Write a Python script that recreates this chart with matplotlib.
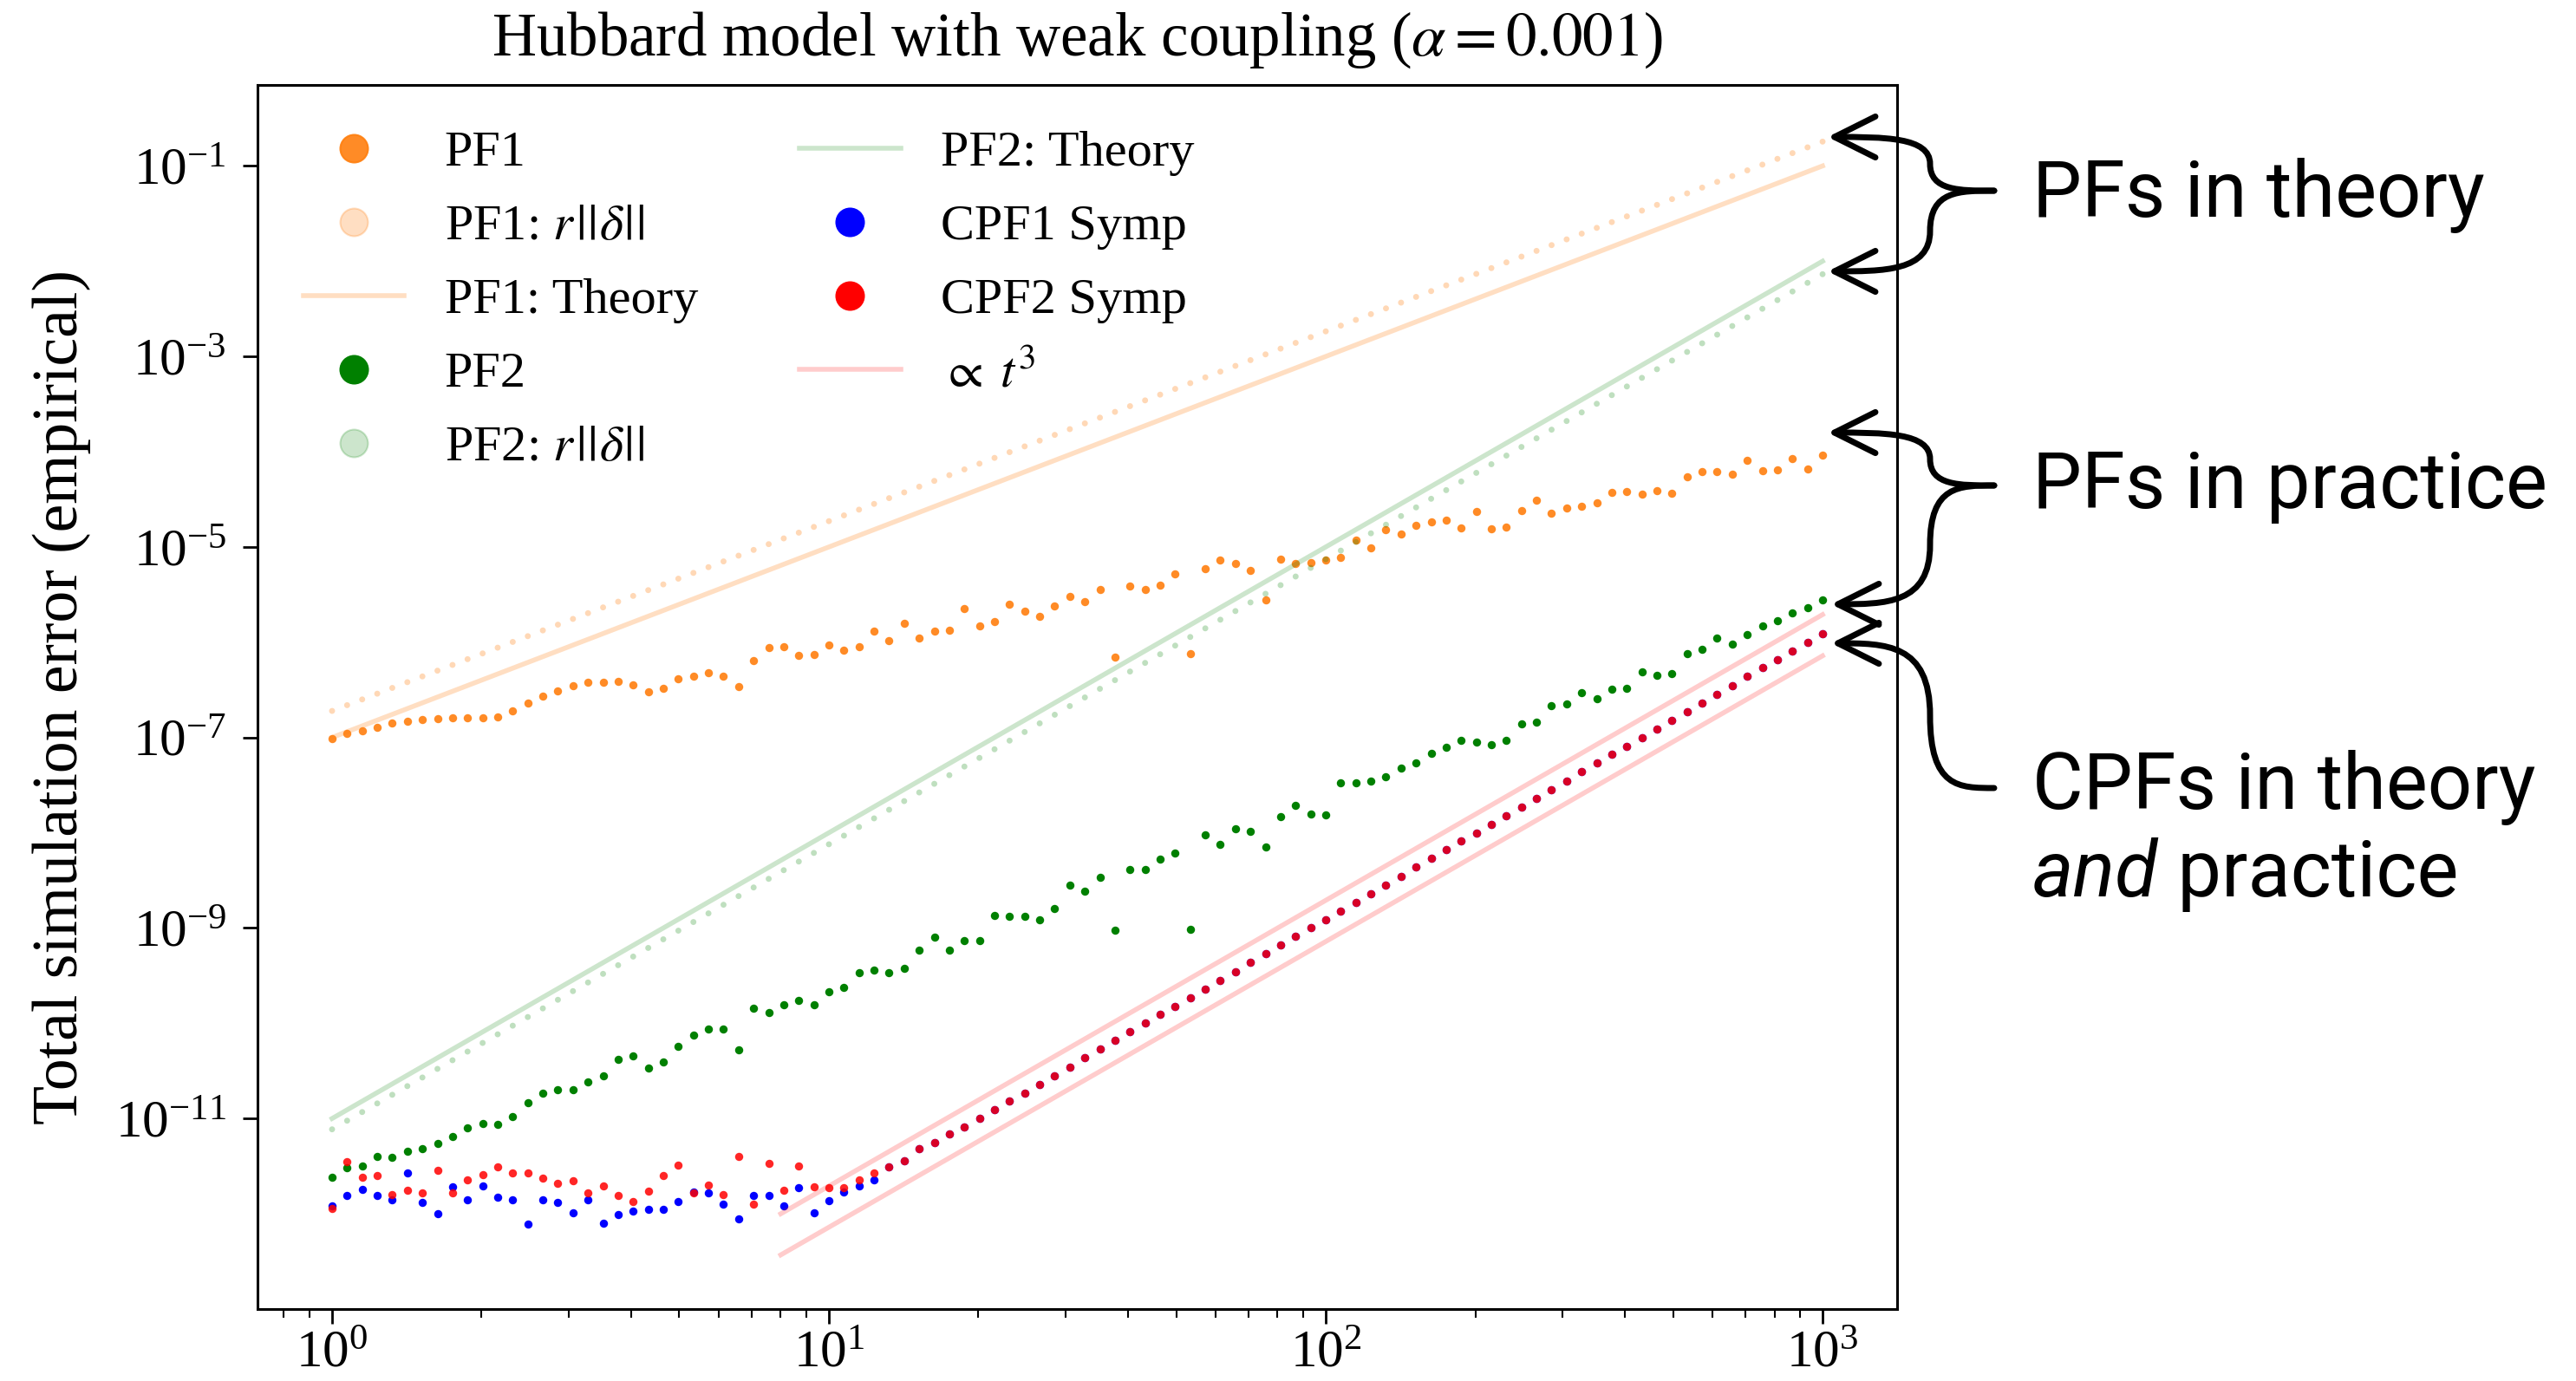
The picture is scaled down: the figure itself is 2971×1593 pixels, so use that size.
import numpy as np
import matplotlib.pyplot as plt
from matplotlib.lines import Line2D
from matplotlib.patches import FancyArrowPatch, ArrowStyle
from matplotlib.path import Path
from matplotlib.ticker import NullLocator

plt.rcParams['font.family'] = ['Liberation Serif', 'DejaVu Serif']
plt.rcParams['mathtext.fontset'] = 'stix'

# =============================================================================
# Data
# =============================================================================

# simulation time: 100 log-spaced samples between t = 1 and t = 1000
t = np.logspace(0, 3, 100)

# log10 of the empirical error
pf1_log = [
    -7.01, -6.96, -6.93, -6.89, -6.85, -6.83, -6.81, -6.80, -6.79, -6.79,
    -6.79, -6.78, -6.72, -6.64, -6.57, -6.51, -6.46, -6.42, -6.42, -6.41,
    -6.45, -6.52, -6.48, -6.38, -6.36, -6.32, -6.36, -6.47, -6.19, -6.06,
    -6.05, -6.14, -6.13, -6.03, -6.08, -6.05, -5.88, -5.98, -5.80, -5.96,
    -5.88, -5.87, -5.65, -5.83, -5.78, -5.60, -5.67, -5.73, -5.62, -5.52,
    -5.57, -5.45, -6.16, -5.41, -5.45, -5.40, -5.28, -6.12, -5.23, -5.14,
    -5.17, -5.25, -5.56, -5.13, -5.17, -5.16, -5.14, -5.11, -4.93, -5.01,
    -4.82, -4.86, -4.77, -4.74, -4.72, -4.80, -4.63, -4.81, -4.79, -4.62,
    -4.51, -4.65, -4.59, -4.57, -4.54, -4.43, -4.42, -4.45, -4.41, -4.44,
    -4.26, -4.21, -4.21, -4.24, -4.09, -4.20, -4.19, -4.07, -4.18, -4.04,
]
pf2_log = [
    -11.62, -11.52, -11.50, -11.40, -11.41, -11.34, -11.32, -11.26, -11.19, -11.10,
    -11.05, -11.06, -10.98, -10.83, -10.73, -10.70, -10.70, -10.62, -10.55, -10.38,
    -10.34, -10.47, -10.41, -10.24, -10.12, -10.06, -10.06, -10.28, -9.84, -9.89,
    -9.81, -9.76, -9.81, -9.67, -9.62, -9.47, -9.44, -9.47, -9.42, -9.23,
    -9.10, -9.23, -9.13, -9.13, -8.87, -8.88, -8.88, -8.91, -8.80, -8.55,
    -8.61, -8.47, -9.02, -8.39, -8.39, -8.28, -8.21, -9.01, -8.02, -8.12,
    -7.96, -7.99, -8.15, -7.83, -7.71, -7.80, -7.81, -7.48, -7.48, -7.46,
    -7.41, -7.32, -7.27, -7.17, -7.10, -7.03, -7.05, -7.08, -7.03, -6.86,
    -6.84, -6.67, -6.65, -6.53, -6.59, -6.49, -6.48, -6.31, -6.35, -6.33,
    -6.12, -6.07, -5.96, -6.02, -5.92, -5.83, -5.77, -5.69, -5.64, -5.56,
]
cpf2_log = [
    -11.94, -11.45, -11.62, -11.60, -11.80, -11.75, -11.78, -11.54, -11.78, -11.64,
    -11.59, -11.51, -11.57, -11.57, -11.63, -11.68, -11.65, -11.78, -11.71, -11.81,
    -11.87, -11.76, -11.60, -11.49, -11.78, -11.70, -11.80, -11.40, -11.90, -11.47,
    -11.75, -11.50, -11.72, -11.73, -11.73, -11.64, -11.57, -11.51, -11.44, -11.32,
    -11.25, -11.16, -11.09, -11.00, -10.91, -10.82, -10.73, -10.64, -10.55, -10.46,
    -10.36, -10.27, -10.18, -10.09, -10.00, -9.91, -9.82, -9.73, -9.64, -9.55,
    -9.46, -9.36, -9.27, -9.18, -9.09, -9.00, -8.91, -8.82, -8.73, -8.64,
    -8.55, -8.46, -8.36, -8.27, -8.18, -8.09, -8.00, -7.91, -7.82, -7.73,
    -7.64, -7.55, -7.46, -7.36, -7.27, -7.18, -7.09, -7.00, -6.91, -6.82,
    -6.73, -6.64, -6.55, -6.46, -6.36, -6.27, -6.18, -6.09, -6.00, -5.91,
]
# CPF1 is only visible up to t ~ 10; past that it sits right under CPF2
cpf1_head_log = [
    -11.92, -11.81, -11.74, -11.81, -11.85, -11.57, -11.88, -12.00, -11.72, -11.85,
    -11.71, -11.83, -11.85, -12.11, -11.85, -11.88, -11.99, -11.85, -12.10, -12.01,
    -11.97, -11.95, -11.95, -11.87, -11.77, -11.78, -11.90, -12.05, -11.81, -11.81,
    -11.92, -11.73, -11.99, -11.86, -11.77, -11.71, -11.64,
]
cpf1_log = cpf1_head_log + cpf2_log[len(cpf1_head_log):]

# straight lines on log-log axes: values at both ends
bound_t = [1, 1000]
pf1_bound = [1.9e-7, 1.8e-1]     # PF1: r||delta||
pf1_theory = [1.0e-7, 1.0e-1]
pf2_bound = [7.7e-12, 7.3e-3]    # PF2: r||delta||
pf2_theory = [1.0e-11, 1.0e-2]
t3_t = [8, 1000]
t3_upper = [1.0e-12, 1.95e-6]
t3_lower = [3.7e-13, 7.2e-7]

ORANGE = 'tab:orange'
GREEN = 'green'
BLUE = 'blue'
RED = 'red'

# =============================================================================
# Figure
# =============================================================================

W, H, DPI = 2971, 1593, 100
fig = plt.figure(figsize=(W / DPI, H / DPI), dpi=DPI, facecolor='white')


def fx(px):
    return px / W


def fy(py):
    return 1 - py / H


ax = fig.add_axes([fx(297), fy(1510), (2188 - 297) / W, (1510 - 98) / H])
ax.set_xscale('log')
ax.set_yscale('log')
ax.set_xlim(10 ** -0.15, 10 ** 3.15)
ax.set_ylim(1e-13, 10 ** -0.15)

MS = 6.8
LW = 4


def dotted(vals, color, alpha, n_steps=99, lw=5):
    # one dot per time sample, drawn as a round-capped dotted line
    p0, p1 = ax.transData.transform([(bound_t[0], vals[0]), (bound_t[1], vals[1])])
    step = np.hypot(*(p1 - p0)) / n_steps * 72 / DPI / lw
    ax.plot(bound_t, vals, color=color, alpha=alpha, lw=lw,
            linestyle=(0, (0.01, step - 0.01)), dash_capstyle='round')


ax.plot(t, 10 ** np.array(pf1_log), 'o', color=ORANGE, ms=MS, mew=0, alpha=0.9)
dotted(pf1_bound, ORANGE, 0.3)
ax.plot(bound_t, pf1_theory, color=ORANGE, alpha=0.25, lw=LW)
ax.plot(t, 10 ** np.array(pf2_log), 'o', color=GREEN, ms=MS, mew=0)
dotted(pf2_bound, GREEN, 0.25)
ax.plot(bound_t, pf2_theory, color=GREEN, alpha=0.2, lw=LW)
ax.plot(t, 10 ** np.array(cpf1_log), 'o', color=BLUE, ms=MS, mew=0)
ax.plot(t, 10 ** np.array(cpf2_log), 'o', color=RED, ms=MS, mew=0, alpha=0.85)
ax.plot(t3_t, t3_upper, color=RED, alpha=0.2, lw=LW)
ax.plot(t3_t, t3_lower, color=RED, alpha=0.2, lw=LW)

# axes cosmetics
ax.set_yticks([10.0 ** k for k in range(-11, 0, 2)])
ax.yaxis.set_minor_locator(NullLocator())
ax.tick_params(which='major', length=12, width=2, labelsize=44)
ax.tick_params(which='minor', length=7, width=1.5)
ax.tick_params(axis='y', pad=14)
ax.tick_params(axis='x', pad=5)
for s in ax.spines.values():
    s.set_linewidth(2.2)

ax.set_title('Hubbard model with weak coupling ($\\alpha = 0.001$)', fontsize=51, pad=25)
ax.set_ylabel('Total simulation error (empirical)', fontsize=53, labelpad=20)

# legend
LMS = 23


def dot(color, alpha=1.0):
    return Line2D([], [], ls='', marker='o', ms=LMS, color=color, alpha=alpha, mew=1.5)


def seg(color, alpha):
    return Line2D([], [], color=color, alpha=alpha, lw=LW)


norm = r'$r\hspace{0.08}|\hspace{0.05}|\hspace{0.04}\delta\hspace{0.04}|\hspace{0.05}|$'
handles = [dot(ORANGE, 0.9), dot(ORANGE, 0.25), seg(ORANGE, 0.25), dot(GREEN), dot(GREEN, 0.2),
           seg(GREEN, 0.2), dot(BLUE), dot(RED), seg(RED, 0.2)]
labels = ['PF1', 'PF1: ' + norm, 'PF1: Theory', 'PF2', 'PF2: ' + norm,
          'PF2: Theory', 'CPF1 Symp', 'CPF2 Symp', r'$\propto\;t^3$']
ax.legend(handles, labels, loc='upper left', ncol=2, frameon=False, fontsize=42,
          labelspacing=0.55, columnspacing=2.0)

# =============================================================================
# Annotations on the right
# =============================================================================

ANN_SIZE = 65
ANN_FAMILY = ['Roboto', 'DejaVu Sans']
TEXT_X = 2344
WAIST_X = 2226


def brace_arm(tip, end):
    (xt, yt), (xe, ye) = tip, end
    ym = (yt + ye) / 2
    pts = [(xt, yt), (WAIST_X + 0.45 * (xt - WAIST_X), yt), (WAIST_X, yt), (WAIST_X, ym),
           (WAIST_X, ye), (WAIST_X - 0.45 * (WAIST_X - xe), ye), (xe, ye)]
    verts = [(fx(x), fy(y)) for x, y in pts]
    codes = [Path.MOVETO] + [Path.CURVE4] * 6
    arrow = FancyArrowPatch(path=Path(verts, codes),
                            arrowstyle=ArrowStyle('->', head_length=34, head_width=17),
                            mutation_scale=1, lw=5, color='black',
                            transform=fig.transFigure, capstyle='round', joinstyle='round')
    fig.add_artist(arrow)


tip_x = 2300
brace_arm((tip_x, 220), (2108, 158))
brace_arm((tip_x, 220), (2108, 313))
brace_arm((tip_x, 560), (2108, 499))
brace_arm((tip_x, 560), (2112, 697))
brace_arm((tip_x, 909), (2112, 742))

ann = dict(fontsize=ANN_SIZE, family=ANN_FAMILY, va='baseline', ha='left')
fig.text(fx(TEXT_X), fy(250), 'PFs in theory', **ann)
fig.text(fx(TEXT_X), fy(586), 'PFs in practice', **ann)
fig.text(fx(TEXT_X), fy(933), 'CPFs in theory', **ann)
t_and = fig.text(fx(TEXT_X), fy(1034), 'and', style='italic', **ann)
ax.annotate(' practice', xy=(1, 0), xycoords=t_and, va='bottom', ha='left',
            fontsize=ANN_SIZE, family=ANN_FAMILY, annotation_clip=False)

fig.savefig('out.png', dpi=DPI)
